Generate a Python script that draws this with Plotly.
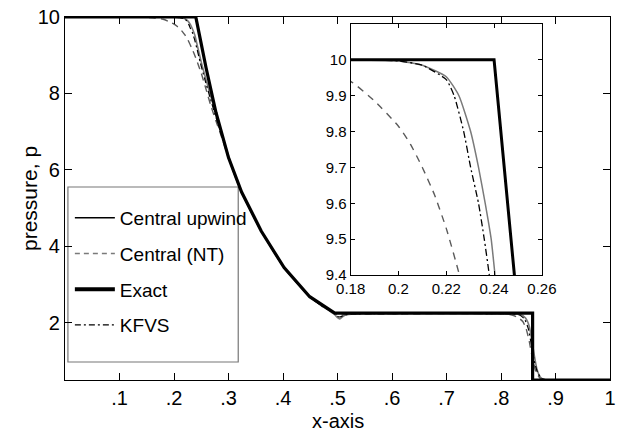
import plotly.graph_objects as go

# ---------------- data ----------------
x_exact = [0.0, 0.240, 0.2485, 0.259, 0.277, 0.300, 0.324, 0.360, 0.402, 0.449, 0.495, 0.858, 0.858, 1.0]
p_exact = [10.0, 10.0, 9.40, 8.66, 7.50, 6.32, 5.42, 4.40, 3.44, 2.68, 2.25, 2.25, 0.50, 0.50]

x_cu = [0.0, 0.18, 0.20, 0.21, 0.22, 0.2253, 0.2302, 0.2335, 0.2363, 0.2388, 0.2404, 0.2445, 0.250,
        0.258, 0.268, 0.280, 0.296, 0.310, 0.324, 0.360, 0.402, 0.449, 0.470, 0.485, 0.495, 0.500,
        0.504, 0.508, 0.515, 0.530, 0.820, 0.835, 0.845, 0.852, 0.857, 0.861, 0.866, 0.872, 0.880,
        0.900, 1.0]
p_cu = [10.0, 10.0, 9.997, 9.985, 9.953, 9.90, 9.80, 9.70, 9.60, 9.50, 9.40, 9.15, 8.82,
        8.40, 7.90, 7.33, 6.55, 5.92, 5.42, 4.40, 3.44, 2.68, 2.45, 2.31, 2.21, 2.13,
        2.10, 2.14, 2.20, 2.23, 2.23, 2.22, 2.12, 1.90, 1.50, 1.15, 0.78, 0.58, 0.51,
        0.50, 0.50]

x_nt = [0.0, 0.12, 0.15, 0.165, 0.18, 0.19, 0.20, 0.205, 0.21, 0.215, 0.220, 0.2255,
        0.232, 0.238, 0.244, 0.250, 0.259, 0.268, 0.277, 0.290, 0.300, 0.324, 0.360, 0.402,
        0.449, 0.470, 0.485, 0.495, 0.503, 0.510, 0.520, 0.800, 0.820, 0.832, 0.840, 0.846,
        0.852, 0.858, 0.864, 0.872, 0.885, 1.0]
p_nt = [10.0, 10.0, 9.99, 9.975, 9.94, 9.885, 9.815, 9.765, 9.70, 9.625, 9.53, 9.40,
        9.20, 9.00, 8.77, 8.53, 8.10, 7.66, 7.28, 6.75, 6.30, 5.42, 4.40, 3.44,
        2.69, 2.46, 2.33, 2.25, 2.18, 2.20, 2.22, 2.23, 2.20, 2.13, 2.03, 1.85,
        1.50, 1.05, 0.72, 0.54, 0.50, 0.50]

x_kf = [0.0, 0.18, 0.20, 0.21, 0.22, 0.2233, 0.2273, 0.2302, 0.2335, 0.2359, 0.238, 0.2425, 0.248,
        0.256, 0.266, 0.278, 0.295, 0.310, 0.324, 0.360, 0.402, 0.449, 0.470, 0.485, 0.495,
        0.502, 0.507, 0.515, 0.530, 0.820, 0.834, 0.843, 0.850, 0.856, 0.861, 0.867, 0.875,
        0.890, 1.0]
p_kf = [10.0, 10.0, 9.997, 9.985, 9.945, 9.90, 9.80, 9.70, 9.60, 9.50, 9.40, 9.15, 8.82,
        8.40, 7.90, 7.33, 6.57, 5.92, 5.42, 4.40, 3.44, 2.68, 2.45, 2.32, 2.23,
        2.15, 2.16, 2.21, 2.23, 2.23, 2.20, 2.10, 1.85, 1.40, 1.00, 0.70, 0.53,
        0.50, 0.50]

main_xticks = [0.1, 0.2, 0.3, 0.4, 0.5, 0.6, 0.7, 0.8, 0.9, 1.0]
main_xlabels = [".1", ".2", ".3", ".4", ".5", ".6", ".7", ".8", ".9", "1"]
main_yticks = [2, 4, 6, 8, 10]
inset_xticks = [0.18, 0.20, 0.22, 0.24, 0.26]
inset_xlabels = ["0.18", "0.2", "0.22", "0.24", "0.26"]
inset_yticks = [9.4, 9.5, 9.6, 9.7, 9.8, 9.9, 10.0]
inset_ylabels = ["9.4", "9.5", "9.6", "9.7", "9.8", "9.9", "10"]

legend_names = ["Central upwind", "Central (NT)", "Exact", "KFVS"]

# ---------------- figure ----------------
FONT = "Liberation Sans, Arial, sans-serif"

GRAY = "#7a7a7a"
DGRAY = "#5a5a5a"

fig = go.Figure()

series = [
    (x_cu, p_cu, dict(color=GRAY, width=1.6, dash="solid", shape="spline", smoothing=0.5),
     dict(color=GRAY, width=1.5, dash="solid", shape="spline", smoothing=0.5)),
    (x_nt, p_nt, dict(color=DGRAY, width=1.4, dash="7px,5px", shape="spline", smoothing=0.5),
     dict(color=DGRAY, width=1.4, dash="7px,6px", shape="spline", smoothing=0.5)),
    (x_kf, p_kf, dict(color="black", width=1.2, dash="6px,3px,2px,3px", shape="spline", smoothing=0.5),
     dict(color="black", width=1.3, dash="7px,3px,2px,3px", shape="spline", smoothing=0.5)),
    (x_exact, p_exact, dict(color="black", width=3.2), dict(color="black", width=3.0)),
]
for xs, ps, lmain, linset in series:
    fig.add_trace(go.Scatter(x=xs, y=ps, mode="lines", line=lmain, showlegend=False,
                             xaxis="x", yaxis="y", hoverinfo="skip"))
    fig.add_trace(go.Scatter(x=xs, y=ps, mode="lines", line=linset, showlegend=False,
                             xaxis="x2", yaxis="y2", hoverinfo="skip"))

# legend entries (line samples as in the reference legend)
legend_lines = [
    dict(color="black", width=1.5, dash="solid"),
    dict(color=GRAY, width=1.5, dash="5px,4px"),
    dict(color="black", width=4, dash="solid"),
    dict(color="black", width=1.2, dash="6px,3px,2px,3px"),
]
for i, (name, ln) in enumerate(zip(legend_names, legend_lines)):
    fig.add_trace(go.Scatter(x=[None], y=[None], mode="lines", line=ln, name=name,
                             legendgroup=f"g{i}", showlegend=True, xaxis="x", yaxis="y"))

W, H = 626, 432
ml, mr, mt, mb = 65, 1, 17, 52
pw, ph = W - ml - mr, H - mt - mb

def px(x):
    return (x - ml) / pw

def py(y):
    return (H - mb - y) / ph

axis_common = dict(showline=True, linecolor="black", linewidth=1.2, mirror="ticks",
                   ticks="inside", tickcolor="black", showgrid=False, zeroline=False)

fig.update_layout(
    width=W, height=H,
    margin=dict(l=ml, r=mr, t=mt, b=mb, pad=0),
    paper_bgcolor="white", plot_bgcolor="white",
    font=dict(family=FONT, color="black", size=20),
    xaxis=dict(domain=[0, 1], range=[0, 1], tickvals=main_xticks, ticktext=main_xlabels,
               ticklen=7, tickfont=dict(size=20, family=FONT),
               **axis_common),
    yaxis=dict(domain=[0, 1], range=[0.5, 10], tickvals=main_yticks, ticklen=7,
               tickfont=dict(size=20, family=FONT),
               **axis_common),
    xaxis2=dict(domain=[px(358.5), px(555)], range=[0.18, 0.26], anchor="y2",
                tickvals=inset_xticks, ticktext=inset_xlabels, ticklen=4,
                tickfont=dict(size=15, family=FONT), **axis_common),
    yaxis2=dict(domain=[py(275), py(24)], range=[9.4, 10.1], anchor="x2",
                tickvals=inset_yticks, ticktext=inset_ylabels, ticklen=4,
                tickfont=dict(size=15, family=FONT), **axis_common),
    legend=dict(x=px(70), y=py(199), xanchor="left", yanchor="top",
                bgcolor="rgba(0,0,0,0)", borderwidth=0,
                font=dict(size=19, family=FONT),
                traceorder="grouped", tracegroupgap=8, itemwidth=40),
    shapes=[dict(type="rect", xref="paper", yref="paper",
                 x0=px(68), x1=px(243), y0=py(362), y1=py(187),
                 line=dict(color="#777777", width=1.2), fillcolor="white", layer="below")],
    annotations=[
        dict(text="pressure, p", textangle=-90, xref="paper", yref="paper",
             x=px(28), y=py(198), xanchor="center", yanchor="middle", showarrow=False,
             font=dict(size=21, family=FONT)),
        dict(text="x-axis", xref="paper", yref="paper",
             x=px(345), y=py(421), xanchor="center", yanchor="middle", showarrow=False,
             font=dict(size=20, family=FONT)),
    ],
)

fig.write_html("out.html")
